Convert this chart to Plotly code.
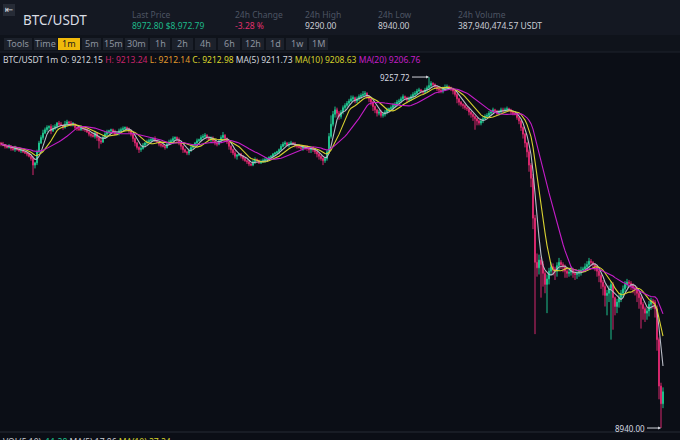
import plotly.graph_objects as go
import pandas as pd

# ---------------- data (1m candles, USDT) ----------------
opens = [
    9198, 9197, 9196, 9195, 9194, 9195, 9193, 9192, 9193.5, 9192, 9191, 9191.5, 9190, 9189, 9188, 9186, 9184, 9178, 9180, 9190,
    9198, 9203, 9207, 9210, 9212, 9213, 9209, 9211, 9213, 9216, 9215, 9214, 9212, 9215, 9217, 9216, 9214, 9215, 9212, 9211,
    9210, 9212, 9211, 9210, 9208, 9206, 9205, 9204, 9207, 9203, 9200, 9199, 9203, 9206, 9208, 9209, 9210, 9208, 9206, 9207,
    9209, 9210, 9211, 9212, 9211, 9209, 9206, 9202, 9198, 9194, 9192, 9193, 9196, 9198, 9199, 9200, 9201, 9202, 9200, 9199,
    9197, 9196, 9195, 9194, 9197, 9199, 9200, 9202, 9203, 9201, 9198, 9195, 9192, 9190, 9189, 9191, 9194, 9196, 9198, 9200,
    9201, 9203, 9204, 9205, 9203, 9201, 9202, 9200, 9198, 9197, 9200, 9203, 9205, 9202, 9199, 9195, 9192, 9189, 9186, 9187,
    9188, 9186, 9184, 9182, 9181, 9179, 9178, 9181, 9183, 9182, 9180, 9181, 9182, 9183, 9184, 9185, 9186, 9188, 9189, 9190,
    9192, 9195, 9197, 9198, 9196, 9197, 9198, 9197, 9196, 9195, 9194, 9193, 9195, 9194, 9193, 9192, 9194, 9192, 9190, 9188,
    9186, 9184, 9182, 9184, 9190, 9204, 9215, 9224, 9228, 9225, 9222, 9226, 9230, 9232, 9234, 9236, 9238, 9239, 9236, 9238,
    9240, 9241, 9242, 9243, 9240, 9238, 9235, 9231, 9228, 9225, 9226, 9223, 9224, 9226, 9228, 9229, 9230, 9232, 9233, 9235,
    9236, 9238, 9240, 9239, 9237, 9238, 9240, 9242, 9243, 9245, 9246, 9245, 9244, 9246, 9248, 9250, 9252, 9251, 9249, 9247,
    9246, 9245, 9247, 9248, 9249, 9248, 9247, 9245, 9242, 9238, 9235, 9233, 9232, 9230, 9229, 9226, 9224, 9222, 9220, 9218,
    9216, 9218, 9220, 9222, 9223, 9225, 9226, 9228, 9227, 9225, 9226, 9228, 9227, 9228, 9229, 9228, 9226, 9225, 9224, 9221,
    9218, 9212, 9206, 9198, 9190, 9178, 9166, 9130, 9090, 9085, 9092, 9088, 9080, 9070, 9075, 9082, 9086, 9084, 9082, 9087,
    9090, 9088, 9086, 9082, 9080, 9081, 9083, 9080, 9079, 9080, 9081, 9083, 9084, 9086, 9088, 9091, 9090, 9088, 9086, 9082,
    9078, 9072, 9068, 9060, 9062, 9066, 9070, 9058, 9050, 9054, 9058, 9062, 9066, 9070, 9072, 9071, 9069, 9067, 9066, 9062,
    9058, 9052, 9048, 9044, 9046, 9052, 9055, 9054, 9048, 9020, 8978, 8962,
]
closes = [
    9197, 9196, 9195, 9194, 9195, 9193, 9192, 9193.5, 9192, 9191, 9191.5, 9190, 9189, 9188, 9186, 9184, 9178, 9180, 9190, 9198,
    9203, 9207, 9210, 9212, 9213, 9209, 9211, 9213, 9216, 9215, 9214, 9212, 9215, 9217, 9216, 9214, 9215, 9212, 9211, 9210,
    9212, 9211, 9210, 9208, 9206, 9205, 9204, 9207, 9203, 9200, 9199, 9203, 9206, 9208, 9209, 9210, 9208, 9206, 9207, 9209,
    9210, 9211, 9212, 9211, 9209, 9206, 9202, 9198, 9194, 9192, 9193, 9196, 9198, 9199, 9200, 9201, 9202, 9200, 9199, 9197,
    9196, 9195, 9194, 9197, 9199, 9200, 9202, 9203, 9201, 9198, 9195, 9192, 9190, 9189, 9191, 9194, 9196, 9198, 9200, 9201,
    9203, 9204, 9205, 9203, 9201, 9202, 9200, 9198, 9197, 9200, 9203, 9205, 9202, 9199, 9195, 9192, 9189, 9186, 9187, 9188,
    9186, 9184, 9182, 9181, 9179, 9178, 9181, 9183, 9182, 9180, 9181, 9182, 9183, 9184, 9185, 9186, 9188, 9189, 9190, 9192,
    9195, 9197, 9198, 9196, 9197, 9198, 9197, 9196, 9195, 9194, 9193, 9195, 9194, 9193, 9192, 9194, 9192, 9190, 9188, 9186,
    9184, 9182, 9184, 9190, 9204, 9215, 9224, 9228, 9225, 9222, 9226, 9230, 9232, 9234, 9236, 9238, 9239, 9236, 9238, 9240,
    9241, 9242, 9243, 9240, 9238, 9235, 9231, 9228, 9225, 9226, 9223, 9224, 9226, 9228, 9229, 9230, 9232, 9233, 9235, 9236,
    9238, 9240, 9239, 9237, 9238, 9240, 9242, 9243, 9245, 9246, 9245, 9244, 9246, 9248, 9250, 9252, 9251, 9249, 9247, 9246,
    9245, 9247, 9248, 9249, 9248, 9247, 9245, 9242, 9238, 9235, 9233, 9232, 9230, 9229, 9226, 9224, 9222, 9220, 9218, 9216,
    9218, 9220, 9222, 9223, 9225, 9226, 9228, 9227, 9225, 9226, 9228, 9227, 9228, 9229, 9228, 9226, 9225, 9224, 9221, 9218,
    9212, 9206, 9198, 9190, 9178, 9166, 9130, 9090, 9085, 9092, 9088, 9080, 9070, 9075, 9082, 9086, 9084, 9082, 9087, 9090,
    9088, 9086, 9082, 9080, 9081, 9083, 9080, 9079, 9080, 9081, 9083, 9084, 9086, 9088, 9091, 9090, 9088, 9086, 9082, 9078,
    9072, 9068, 9060, 9062, 9066, 9070, 9058, 9050, 9054, 9058, 9062, 9066, 9070, 9072, 9071, 9069, 9067, 9066, 9062, 9058,
    9052, 9048, 9044, 9046, 9052, 9055, 9054, 9048, 9020, 8978, 8962, 8972.8,
]
# wick lengths above the body top / below the body bottom (USDT)
upper_wick = [
    1, 2, 1, 1, 2, 1, 1, 2, 1, 1, 1, 1, 1, 1, 1, 1, 2, 1, 2, 2,
    2, 3, 2, 2, 1, 2, 3, 2, 1, 2, 2, 1, 3, 2, 1, 2, 2, 1, 1, 2,
    2, 1, 1, 2, 1, 1, 2, 2, 1, 1, 3, 2, 2, 2, 1, 1, 1, 2, 1, 2,
    2, 2, 1, 1, 1, 1, 1, 1, 1, 1, 2, 2, 1, 2, 2, 2, 1, 2, 1, 1,
    1, 1, 1, 2, 2, 2, 2, 1, 1, 2, 1, 1, 1, 1, 2, 2, 1, 1, 2, 1,
    2, 2, 2, 1, 1, 2, 2, 1, 1, 1, 2, 3, 1, 1, 1, 1, 1, 2, 1, 1,
    1, 1, 1, 1, 1, 1, 2, 2, 1, 1, 2, 2, 2, 1, 1, 1, 1, 1, 1, 1,
    2, 2, 2, 1, 2, 2, 1, 2, 1, 1, 2, 1, 1, 2, 1, 1, 1, 1, 1, 1,
    1, 1, 1, 2, 3, 8, 3, 3, 2, 2, 2, 2, 2, 2, 2, 3, 2, 1, 2, 2,
    2, 3, 2, 1, 1, 1, 1, 1, 1, 2, 2, 2, 2, 2, 1, 2, 2, 2, 2, 2,
    2, 2, 1, 1, 2, 2, 2, 2, 2, 2, 1, 1, 2, 2, 7.72, 2, 1, 1, 1, 2,
    2, 2, 3, 2, 1, 1, 1, 1, 1, 1, 1, 1, 1, 1, 1, 1, 1, 1, 1, 1,
    2, 2, 2, 2, 2, 2, 2, 1, 1, 2, 2, 2, 2, 2, 1, 1, 1, 1, 1, 1,
    1, 1, 1, 1, 2, 2, 4, 3, 8, 5, 3, 3, 2, 4, 3, 4, 3, 2, 3, 4,
    2, 2, 2, 2, 2, 3, 2, 2, 2, 3, 3, 2, 3, 3, 3, 2, 1, 1, 1, 2,
    2, 2, 2, 3, 3, 3, 2, 1, 3, 3, 3, 3, 3, 3, 2, 2, 2, 2, 2, 2,
    2, 2, 2, 3, 3, 3, 2, 2, 3, 2, 3, 4,
]
lower_wick = [
    2, 1, 2, 1, 1, 2, 1, 2, 1, 1, 2, 1, 1, 2, 1, 2, 9, 3, 2, 1,
    1, 2, 1, 2, 2, 3, 1, 1, 2, 2, 1, 2, 1, 2, 2, 1, 1, 2, 2, 1,
    1, 2, 2, 1, 2, 2, 1, 2, 3, 7, 2, 1, 1, 2, 2, 1, 2, 1, 1, 2,
    1, 1, 2, 1, 2, 2, 3, 3, 2, 3, 2, 1, 2, 2, 1, 1, 2, 1, 1, 2,
    2, 1, 2, 1, 1, 2, 3, 2, 2, 2, 3, 3, 1, 2, 2, 1, 2, 2, 1, 1,
    1, 1, 2, 2, 1, 2, 2, 2, 2, 1, 2, 2, 3, 2, 3, 3, 2, 2, 3, 1,
    2, 2, 1, 2, 2, 1, 1, 2, 2, 1, 1, 1, 2, 2, 2, 1, 1, 1, 1, 2,
    1, 1, 2, 1, 2, 1, 1, 2, 2, 1, 1, 2, 2, 2, 3, 3, 2, 2, 3, 3,
    2, 4, 2, 2, 2, 2, 2, 3, 4, 3, 2, 2, 2, 2, 2, 1, 2, 2, 2, 2,
    2, 1, 2, 2, 3, 3, 4, 3, 3, 2, 2, 2, 2, 2, 2, 2, 2, 2, 2, 2,
    2, 2, 2, 3, 2, 2, 2, 2, 1, 1, 2, 2, 1, 2, 2, 2, 2, 2, 2, 3,
    2, 2, 2, 2, 2, 2, 3, 2, 4, 3, 2, 3, 2, 2, 3, 3, 4, 10, 4, 2,
    2, 2, 1, 1, 2, 2, 1, 1, 2, 2, 1, 2, 1, 1, 2, 2, 2, 1, 2, 3,
    3, 4, 4, 5, 6, 8, 10, 65, 8, 6, 30, 12, 8, 26, 5, 4, 6, 8, 5, 4,
    4, 5, 6, 4, 3, 3, 4, 5, 4, 3, 3, 2, 3, 3, 3, 3, 4, 4, 5, 6,
    6, 8, 10, 18, 8, 46, 29, 8, 6, 5, 4, 4, 3, 3, 4, 4, 5, 6, 8, 10,
    22, 10, 8, 6, 5, 5, 6, 8, 10, 12, 22, 4,
]
ma_periods = [5, 10, 20]
ma_colors = ["#b9bcc6", "#d8d232", "#c51dc8"]

header_labels = ["Last Price", "24h Change", "24h High", "24h Low", "24h Volume"]
header_values = ["8972.80 $8,972.79", "-3.28 %", "9290.00", "8940.00", "387,940,474.57 USDT"]
intervals = ["Tools", "Time", "1m", "5m", "15m", "30m", "1h", "2h",
             "4h", "6h", "12h", "1d", "1w", "1M"]
legend_parts = [("BTC/USDT 1m O: 9212.15", "#d2d5dc"), ("H: 9213.24", "#c8236b"),
                ("L: 9212.14", "#e39a2c"), ("C: 9212.98", "#dcd62c"),
                ("MA(5) 9211.73", "#d2d5dc"), ("MA(10) 9208.63", "#d4cf2a"),
                ("MA(20) 9206.76", "#c51dc8")]
vol_parts = [("VOL(5,10):", "#c9ccd3"), ("11.28", "#1fc08c"),
             ("MA(5) 17.86", "#c9ccd3"), ("MA(10) 27.24", "#d4cf2a")]

assert len(opens) == len(closes) == len(upper_wick) == len(lower_wick)
highs = [max(o, c) + u for o, c, u in zip(opens, closes, upper_wick)]
lows = [min(o, c) - d for o, c, d in zip(opens, closes, lower_wick)]

# ---------------- figure ----------------
W, H = 680, 440
BG = "#0b0e16"
FONT = "Noto Sans, Open Sans, sans-serif"
N = len(closes)

def px(x):
    return x / W

def py(y):
    return 1 - y / H

idx = list(range(N))
s = pd.Series(closes)

fig = go.Figure()
fig.add_trace(go.Candlestick(
    x=idx, open=opens, high=highs, low=lows, close=closes,
    increasing=dict(line=dict(color="#1fc08c", width=1), fillcolor="#1fc08c"),
    decreasing=dict(line=dict(color="#d6276c", width=1), fillcolor="#d6276c"),
    whiskerwidth=0, showlegend=False,
))
for p, c in zip(ma_periods, ma_colors):
    fig.add_trace(go.Scatter(
        x=idx, y=s.rolling(p, min_periods=1).mean(), mode="lines",
        line=dict(color=c, width=1.1), showlegend=False, hoverinfo="skip",
    ))

shapes = []
annotations = []

# header band
shapes.append(dict(type="rect", xref="paper", yref="paper", x0=0, x1=1,
                   y0=py(35), y1=1, fillcolor="#141822", line_width=0, layer="below"))
shapes.append(dict(type="rect", xref="paper", yref="paper", x0=0, x1=1,
                   y0=py(52), y1=py(35), fillcolor="#0f131b", line_width=0, layer="below"))
shapes.append(dict(type="line", xref="paper", yref="paper", x0=0, x1=1,
                   y0=py(52), y1=py(52), line=dict(color="#1e232d", width=1)))
# icon
shapes.append(dict(type="rect", xref="paper", yref="paper", x0=px(3), x1=px(15),
                   y0=py(16), y1=py(4), fillcolor="#262b36", line_width=0))
annotations.append(dict(x=px(9), y=py(10), xref="paper", yref="paper", text="⇤",
                        showarrow=False, font=dict(size=10, color="#d4d7de", family="DejaVu Sans"),
                        xanchor="center", yanchor="middle"))
annotations.append(dict(x=px(21), y=py(20), xref="paper", yref="paper", text="BTC/USDT",
                        showarrow=False, font=dict(size=13.5, color="#dadde4", family=FONT),
                        xanchor="left", yanchor="middle"))
header_x = [130, 233, 303, 376, 456]
val_colors = ["#1db98a", "#e0306e", "#c9ccd3", "#c9ccd3", "#c9ccd3"]
for lab, val, col, hx in zip(header_labels, header_values, val_colors, header_x):
    annotations.append(dict(x=px(hx), y=py(14), xref="paper", yref="paper", text=lab,
                            showarrow=False, font=dict(size=8.5, color="#4d5463", family=FONT),
                            xanchor="left", yanchor="middle"))
    annotations.append(dict(x=px(hx), y=py(26), xref="paper", yref="paper", text=val,
                            showarrow=False, font=dict(size=8.5, color=col, family=FONT),
                            xanchor="left", yanchor="middle"))

# interval buttons
btn_edges = [(4, 32), (34, 57), (58, 80), (82, 101), (103, 123), (125, 148), (150, 170),
             (172, 193), (195, 216), (218, 240), (242, 264), (266, 284), (286, 307), (309, 328)]
for lab, (a, b) in zip(intervals, btn_edges):
    active = lab == "1m"
    shapes.append(dict(type="rect", xref="paper", yref="paper", x0=px(a), x1=px(b),
                       y0=py(50), y1=py(38), fillcolor="#f0b90b" if active else "#1c212b",
                       line_width=0))
    annotations.append(dict(x=px((a + b) / 2), y=py(44), xref="paper", yref="paper", text=lab,
                            showarrow=False,
                            font=dict(size=9, color="#1a1a1a" if active else "#8d939f", family=FONT),
                            xanchor="center", yanchor="middle"))

# OHLC / MA legend line
legend_html = " ".join(f'<span style="color:{c}">{t}</span>' for t, c in legend_parts)
annotations.append(dict(x=px(1), y=py(60), xref="paper", yref="paper", text=legend_html,
                        showarrow=False, font=dict(size=8.5, color="#d2d5dc", family=FONT),
                        xanchor="left", yanchor="middle"))

# high / low markers
hi_val = max(highs)
lo_val = min(lows)
hi_i = highs.index(hi_val)
lo_i = lows.index(lo_val)
annotations.append(dict(x=hi_i, y=hi_val, xref="x", yref="y", text=f"{hi_val:.2f}",
                        showarrow=True, arrowhead=2, arrowsize=0.6, arrowwidth=1,
                        arrowcolor="#d0d3da", ax=-17, ay=0, xanchor="right",
                        font=dict(size=8, color="#d8dbe2", family=FONT)))
annotations.append(dict(x=lo_i, y=lo_val, xref="x", yref="y", text=f"{lo_val:.2f}",
                        showarrow=True, arrowhead=2, arrowsize=0.6, arrowwidth=1,
                        arrowcolor="#d0d3da", ax=-14, ay=0, xanchor="right",
                        font=dict(size=8, color="#d8dbe2", family=FONT)))

# bottom volume pane separator + label (cut by the window edge, as in the original)
shapes.append(dict(type="line", xref="paper", yref="paper", x0=0, x1=1,
                   y0=py(432), y1=py(432), line=dict(color="#262a35", width=1)))
vol_html = " ".join(f'<span style="color:{c}">{t}</span>' for t, c in vol_parts)
annotations.append(dict(x=px(1), y=py(434), xref="paper", yref="paper", text=vol_html,
                        showarrow=False, font=dict(size=8.5, family=FONT),
                        xanchor="left", yanchor="top"))

fig.update_layout(
    width=W, height=H,
    margin=dict(l=0, r=0, t=0, b=0),
    paper_bgcolor=BG, plot_bgcolor=BG,
    shapes=shapes, annotations=annotations,
    xaxis=dict(range=[-0.5, N + 7.5], domain=[0, 1], visible=False,
               rangeslider=dict(visible=False), showgrid=False, fixedrange=True),
    yaxis=dict(range=[8936.4, 9265.9], domain=[py(432), py(68)], visible=False,
               showgrid=False, fixedrange=True),
    showlegend=False,
    hovermode=False,
)

fig.write_html(
    "out.html",
    config={"displayModeBar": False, "staticPlot": True},
    post_script="document.body.style.margin='0';document.body.style.background='#0b0e16';",
)
